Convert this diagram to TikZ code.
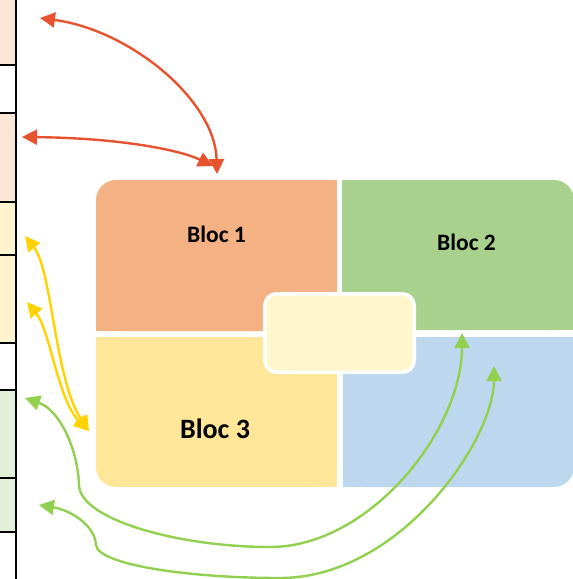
\documentclass[tikz,border=0pt]{standalone}
\usepackage{fontspec}
\setmainfont{Carlito}
\usetikzlibrary{arrows.meta}
\definecolor{cpink}{HTML}{FBE5D6}
\definecolor{cyel}{HTML}{FFF2CC}
\definecolor{cgreen}{HTML}{E2F0D9}
\definecolor{bone}{HTML}{F4B183}
\definecolor{btwo}{HTML}{A9D18E}
\definecolor{bthree}{HTML}{FFE699}
\definecolor{bfour}{HTML}{BDD7EE}
\definecolor{bcentre}{HTML}{FFF6CC}
\definecolor{lred}{HTML}{E8532F}
\definecolor{lyel}{HTML}{FFD200}
\definecolor{lgreen}{HTML}{92D050}
\tikzset{
  tipshape/.tip={Triangle[length=15pt,width=15pt]},
  conn/.style={line width=2.4pt, tipshape-tipshape},
  redconn/.style={conn, draw=lred},
  yelconn/.style={conn, draw=lyel},
  grnconn/.style={conn, draw=lgreen},
  bloclabel/.style={font=\bfseries\fontsize{23.5}{28}\selectfont, inner sep=0pt, anchor=base},
  gridline/.style={draw=black, line width=1.5pt},
}
\begin{document}
\begin{tikzpicture}[x=1pt,y=-1pt]
\useasboundingbox (0,0) rectangle (573,579);
% left column of cells
\foreach \a/\b/\c in {0/65/cpink, 65/113/white, 113/202/cpink, 202/255/cyel, 255/343/cyel, 343/390/white, 390/478/cgreen, 478/532/cgreen, 532/579/white}
  \fill[\c] (-2,\a) rectangle (16,\b);
\foreach \y in {65,113,202,255,343,390,478,532}
  \draw[gridline] (-2,\y) -- (16.7,\y);
\draw[gridline] (16,-2) -- (16,581);
% blocks
\fill[bone, rounded corners=20pt] (96,180) rectangle (337,331);
\fill[bone] (130,180) rectangle (337,331);
\fill[bone] (96,220) rectangle (337,331);
\fill[btwo, rounded corners=20pt] (342,180) rectangle (574,330);
\fill[btwo] (342,180) rectangle (540,330);
\fill[btwo] (342,220) rectangle (574,330);
\fill[bthree, rounded corners=20pt] (96,337) rectangle (337,487);
\fill[bthree] (130,337) rectangle (337,487);
\fill[bthree] (96,337) rectangle (337,450);
\fill[bfour, rounded corners=20pt] (343,337) rectangle (574,487);
\fill[bfour] (343,337) rectangle (540,487);
\fill[bfour] (343,337) rectangle (574,450);
\node[draw=white, line width=3.5pt, fill=bcentre, rounded corners=12pt, minimum width=149.5pt, minimum height=78.5pt, inner sep=0pt] (centre) at (339.5,333) {};
\node[bloclabel] (bloc1) at (216.5,242) {Bloc 1};
\node[bloclabel] (bloc2) at (466.5,250) {Bloc 2};
\node[bloclabel, font=\bfseries\fontsize{28}{33}\selectfont] (bloc3) at (215,438) {Bloc 3};
% connector end points
\coordinate (r1a) at (40,18);
\coordinate (r1b) at (217,174);
\coordinate (r2a) at (22,137);
\coordinate (r2b) at (213,166);
\coordinate (ya) at (25,236);
\coordinate (yb) at (27,302);
\coordinate (yend) at (89,431);
\coordinate (ga) at (25,398);
\coordinate (gc) at (462,333);
\coordinate (gb) at (39,505);
\coordinate (gd) at (494,366);
% connectors
\draw[redconn] (r1a) .. controls (130,30) and (215,100) .. (r1b);
\draw[redconn] (r2a) .. controls (120,138) and (180,150) .. (r2b);
\draw[yelconn] (ya) .. controls (52,270) and (55,380) .. (yend);
\draw[yelconn] (yb) .. controls (50,330) and (58,400) .. (yend);
\draw[grnconn] (ga) .. controls (60,410) and (78,450) .. (79,485) .. controls (80,520) and (180,547) .. (270,547) .. controls (370,547) and (462,430) .. (gc);
\draw[grnconn] (gb) .. controls (70,510) and (95,525) .. (96,545) .. controls (98,565) and (190,578) .. (280,578) .. controls (400,578) and (494,440) .. (gd);
\end{tikzpicture}
\end{document}
